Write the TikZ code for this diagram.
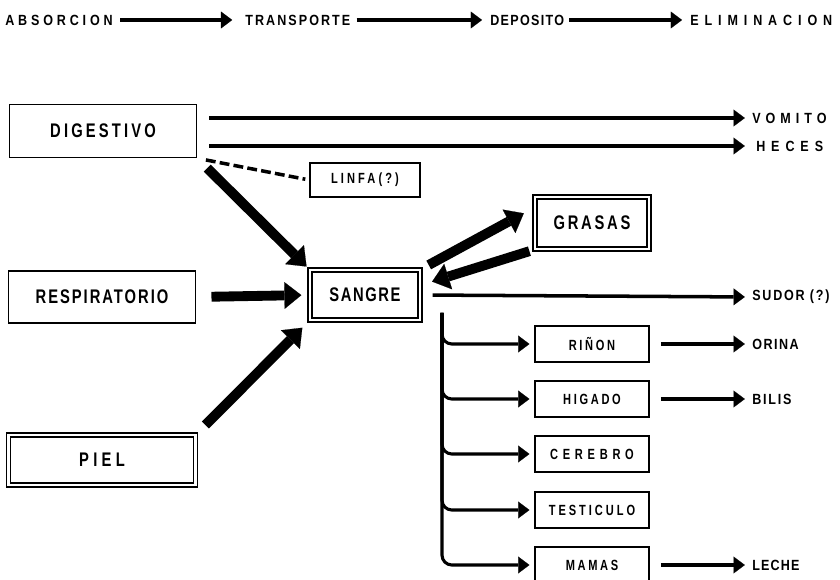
\documentclass[tikz,border=0pt]{standalone}
\usepackage{fontspec}
\usetikzlibrary{arrows.meta, positioning, calc}
\newfontfamily\lettering[FakeStretch=0.75]{Liberation Sans}
\newfontfamily\widelettering[FakeStretch=0.85]{Liberation Sans}

\begin{document}
\begin{tikzpicture}[
  big/.style={font=\lettering\bfseries\fontsize{14}{16}\selectfont\addfontfeature{LetterSpace=#1}},
  big/.default=14,
  small/.style={font=\lettering\bfseries\fontsize{10.5}{12}\selectfont\addfontfeature{LetterSpace=#1}},
  small/.default=18,
  outer/.style={font=\widelettering\bfseries\fontsize{10.5}{12}\selectfont\addfontfeature{LetterSpace=#1}},
  outer/.default=10,
  box/.style={draw, line width=1.1pt, inner sep=0pt},
  dbox/.style={draw, double, double distance=1.8pt, line width=0.9pt, inner sep=0pt},
  organ/.style={box, minimum width=2.85cm, minimum height=0.9cm},
  tag/.style={anchor=west, inner sep=0pt},
  arr/.style={line width=2.5pt, -{Triangle[length=8pt, width=12pt, line width=0.1pt]}},
  fat/.style={line width=7pt, -{Triangle[length=12pt, width=19pt, line width=0.1pt]}},
  branch/.style={line width=2.2pt, rounded corners=7pt,
                 -{Triangle[length=8pt, width=12pt, line width=0.1pt]}},
  lymph/.style={line width=2.5pt, dash pattern=on 7pt off 3pt}
]
\useasboundingbox (0,0) rectangle (21,-14.5);

% top line of stages
\node[tag, outer=26] (absn) at (0.125,-0.5) {ABSORCION};
\node[tag, outer=14] (trans) at (6.125,-0.5) {TRANSPORTE};
\node[tag, outer=9] (depo) at (12.25,-0.5) {DEPOSITO};
\node[tag, outer=40] (elim) at (17.25,-0.5) {ELIMINACION};

\draw[arr, shorten <=0.18cm, shorten >=0.32cm] (absn.east) -- (trans.west);
\draw[arr, shorten <=0.15cm, shorten >=0.2cm] (trans.east) -- (depo.west);
\draw[arr, shorten <=0.12cm, shorten >=0.2cm] (depo.east) -- (elim.west);

% entry organs
\node[box, big=16, minimum width=4.675cm, minimum height=1.325cm] (dig) at (2.575,-3.275) {DIGESTIVO};
\node[box, big=10, minimum width=4.675cm, minimum height=1.3cm] (resp) at (2.55,-7.425) {RESPIRATORIO};
\node[dbox, big=22, minimum width=4.675cm, minimum height=1.25cm] (piel) at (2.55,-11.5) {PIEL};

\node[box, small=21, minimum width=2.75cm, minimum height=0.85cm] (linfa) at (9.125,-4.5) {LINFA(?)};
\node[dbox, big=8, minimum width=2.75cm, minimum height=1.25cm] (sangre) at (9.125,-7.375) {SANGRE};
\node[dbox, big=14, minimum width=2.85cm, minimum height=1.3cm] (grasas) at (14.8,-5.575) {GRASAS};

% organs fed from the blood
\node[organ, small=18] (rinon) at (14.8,-8.6) {RIÑON};
\node[organ, small=18] (higado) at (14.8,-9.975) {HIGADO};
\node[organ, small=32] (cerebro) at (14.8,-11.35) {CEREBRO};
\node[organ, small=20] (testiculo) at (14.8,-12.75) {TESTICULO};
\node[organ, small=18] (mamas) at (14.8,-14.125) {MAMAS};

% way out
\node[tag, outer=34] (vom) at (18.8,-2.95) {VOMITO};
\node[tag, outer=40] (heces) at (18.9,-3.65) {HECES};
\node[tag, outer=12] (sudor) at (18.8,-7.425) {SUDOR (?)};
\node[tag, outer=10] (orina) at (18.8,-8.6) {ORINA};
\node[tag, outer=12] (bilis) at (18.8,-9.975) {BILIS};
\node[tag, outer=8] (leche) at (18.8,-14.125) {LECHE};

\coordinate (trunk) at (11.05,-7.825);

\draw[arr, shorten <=0.3cm, shorten >=0.18cm] (dig.east |- vom.west) -- (vom.west);
\draw[arr, shorten <=0.3cm, shorten >=0.28cm] (dig.east |- heces.west) -- (heces.west);
\draw[lymph, shorten <=0.22cm, shorten >=0.1cm] (dig.south east) -- (linfa.west);

\draw[fat, shorten <=0.35cm, shorten >=0.1cm] (dig.south east) -- (sangre.north west);
\draw[fat, shorten <=0.38cm, shorten >=0.2cm] (resp.east) -- (sangre.west);
\draw[fat, shorten <=0.33cm, shorten >=0.25cm] (piel.north east) -- (sangre.south west);

\draw[fat, shorten <=0.23cm, shorten >=0.3cm] (sangre.north east) -- (grasas.165);
\draw[fat, shorten <=0.13cm, shorten >=0.3cm] (grasas.south west) -- (sangre.10);

\draw[arr, shorten <=0.3cm, shorten >=0.18cm] (sangre.east) -- (sudor.west);

\foreach \o in {rinon, higado, cerebro, testiculo, mamas}
  \draw[branch, shorten >=0.12cm] (trunk) |- (\o.west);

\draw[arr, shorten <=0.28cm, shorten >=0.18cm] (rinon.east) -- (orina.west);
\draw[arr, shorten <=0.28cm, shorten >=0.18cm] (higado.east) -- (bilis.west);
\draw[arr, shorten <=0.28cm, shorten >=0.18cm] (mamas.east) -- (leche.west);

\end{tikzpicture}
\end{document}
